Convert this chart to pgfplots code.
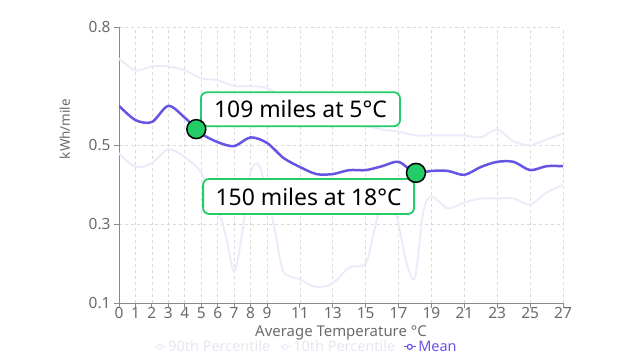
\documentclass[border=0pt]{standalone}
\usepackage{pgfplots}
\pgfplotsset{compat=1.18}
\usepackage{fontspec}
\setmainfont{Noto Sans}
\definecolor{meancol}{HTML}{6655E3}
\definecolor{faint}{HTML}{ECEBFA}
\definecolor{faintTxt}{HTML}{E6E6F0}
\definecolor{greenm}{HTML}{22CC66}
\definecolor{tickgray}{HTML}{6B6B6B}
\definecolor{axgray}{HTML}{8A8A8A}
\definecolor{gridgray}{HTML}{DADADA}
\begin{document}
\begin{tikzpicture}
\path[use as bounding box] (0,0) rectangle (640bp,360bp);
\begin{axis}[
  at={(119bp,57bp)}, anchor=south west,
  scale only axis, width=444bp, height=276bp,
  xmin=0, xmax=27, ymin=0.1, ymax=0.8,
  axis lines=left, axis line style={-, draw=axgray, line width=1bp},
  tick align=outside, xtick pos=left, ytick pos=left,
  major tick length=5bp, tick style={axgray, line width=0.8bp},
  xtick={0,1,2,3,4,5,6,7,8,9,11,13,15,17,19,21,23,25,27},
  ytick={0.1,0.3,0.5,0.8},
  yticklabel style={/pgf/number format/.cd, fixed, fixed zerofill, precision=1},
  /pgf/number format/assume math mode=true,
  ticklabel style={font=\fontsize{15.5}{17}\selectfont, text=tickgray},
  xticklabel style={yshift=2bp, inner sep=1.5bp},
  grid=major, major grid style={dash pattern=on 3bp off 3bp, gridgray, line width=0.6bp},
  xlabel={Average Temperature °C},
  ylabel={kWh/mile},
  xlabel style={font=\fontsize{15}{17}\selectfont, text=tickgray, at={(axis description cs:0.5,-0.108)}, anchor=center, inner sep=1bp},
  ylabel style={font=\fontsize{13.5}{15}\selectfont, text=tickgray, at={(axis description cs:-0.122,0.63)}, anchor=center, rotate=0},
  legend style={at={(axis description cs:0.421,-0.159)}, anchor=center, draw=none, fill=none,
    font=\fontsize{14.5}{16}\selectfont, legend columns=3,
    /tikz/every even column/.append style={column sep=6bp}},
  legend image code/.code={\draw[#1, line width=1.2bp] (0bp,0bp) -- (12bp,0bp); \draw[#1, fill=white, line width=1.2bp] (6bp,0bp) circle (2.5bp);},
]
\addplot[faint, line width=2bp, smooth, tension=0.5] coordinates {
 (0,0.72) (1,0.69) (2,0.70) (3,0.70) (4,0.69) (5,0.67) (6,0.665) (7,0.65) (8,0.65) (9,0.645)
 (10,0.62) (11,0.60) (12,0.58) (13,0.57) (14,0.56) (15,0.55) (16,0.54) (17,0.535)
 (18,0.525) (19,0.525) (20,0.525) (21,0.525) (22,0.52) (23,0.54) (24,0.51) (25,0.50) (26,0.515) (27,0.53)};
\addlegendentry{\textcolor{faintTxt}{90th Percentile}}
\addplot[faint, line width=2bp, smooth, tension=0.5] coordinates {
 (0,0.48) (1,0.445) (2,0.455) (3,0.49) (4,0.47) (5,0.43) (6,0.34) (6.5,0.27) (7,0.18) (7.5,0.28)
 (8,0.43) (8.5,0.45) (9,0.38) (9.5,0.28) (10,0.18) (11,0.16) (12,0.14) (13,0.15) (14,0.19) (15,0.2)
 (15.5,0.28) (16,0.36) (16.5,0.38) (17,0.3) (17.5,0.2) (18,0.165) (18.5,0.33) (19,0.37) (20,0.34)
 (21,0.355) (22,0.365) (23,0.365) (24,0.365) (25,0.35) (26,0.38) (27,0.40)};
\addlegendentry{\textcolor{faintTxt}{10th Percentile}}
\addplot[meancol, line width=2.5bp, smooth, tension=0.5] coordinates {
 (0,0.60) (1,0.564) (2,0.559) (3,0.60) (4,0.57) (5,0.53) (6,0.508) (7,0.498) (8,0.52) (9,0.506)
 (10,0.468) (11,0.445) (12,0.427) (13,0.427) (14,0.437) (15,0.437) (16,0.447) (17,0.458)
 (18,0.43) (19,0.435) (20,0.435) (21,0.425) (22,0.445) (23,0.458) (24,0.458) (25,0.437) (26,0.447) (27,0.447)};
\addlegendentry{\textcolor{meancol}{Mean}}
\node[draw=greenm, line width=1.8bp, rounded corners=6bp, fill=white, anchor=south west,
  minimum height=34bp, minimum width=199bp, inner xsep=5bp, font=\fontsize{23}{26}\selectfont, text=black]
  at (axis cs:4.93,0.546) {109 miles at 5°C};
\node[draw=greenm, line width=1.8bp, rounded corners=6bp, fill=white, anchor=north east,
  minimum height=35bp, minimum width=211bp, inner xsep=5bp, font=\fontsize{23}{26}\selectfont, text=black]
  at (axis cs:18.0,0.417) {150 miles at 18°C};
\addplot[only marks, mark=*, mark size=9.5bp, mark options={fill=greenm, draw=black, line width=1.5bp}, forget plot]
  coordinates {(4.7,0.541) (18.06,0.43)};
\end{axis}
\end{tikzpicture}
\end{document}
